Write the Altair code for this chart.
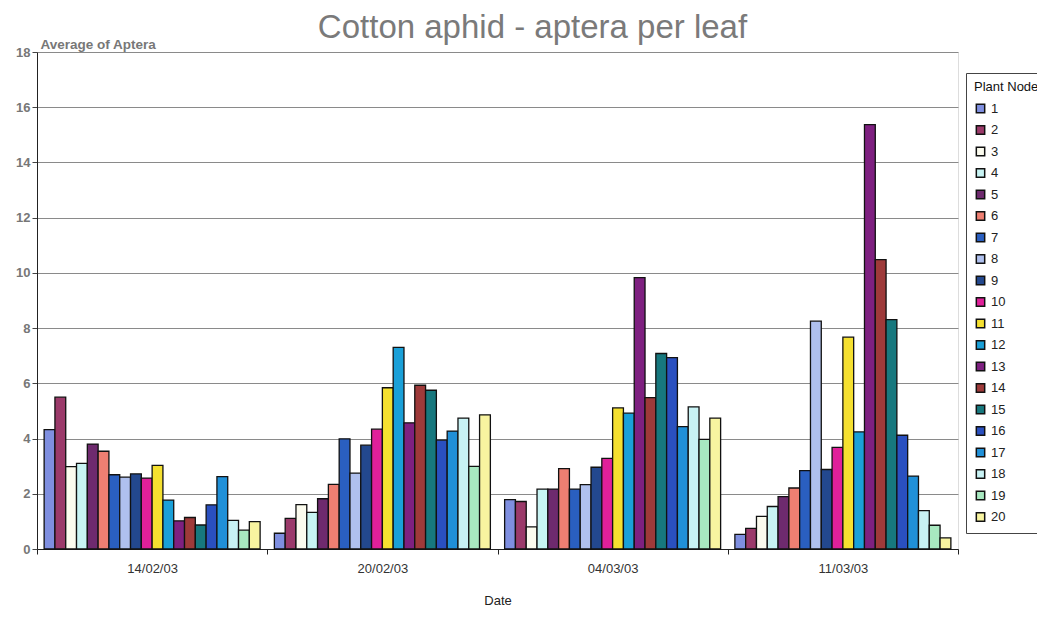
import altair as alt
import pandas as pd

dates = ["14/02/03", "20/02/03", "04/03/03", "11/03/03"]
nodes = list(range(1, 21))

vals_14_02 = [4.32, 5.5, 2.98, 3.1, 3.8, 3.54, 2.69, 2.6, 2.72, 2.57, 3.03, 1.77, 1.02, 1.14, 0.87, 1.6, 2.62, 1.04, 0.68, 0.99]
vals_20_02 = [0.57, 1.11, 1.61, 1.33, 1.82, 2.34, 3.99, 2.75, 3.76, 4.34, 5.84, 7.3, 4.57, 5.93, 5.75, 3.94, 4.27, 4.74, 2.99, 4.86]
vals_04_03 = [1.79, 1.72, 0.8, 2.17, 2.17, 2.91, 2.17, 2.33, 2.96, 3.28, 5.11, 4.92, 9.83, 5.48, 7.08, 6.93, 4.43, 5.15, 3.97, 4.74]
vals_11_03 = [0.53, 0.75, 1.18, 1.54, 1.9, 2.21, 2.84, 8.25, 2.88, 3.68, 7.67, 4.24, 15.37, 10.48, 8.31, 4.12, 2.64, 1.39, 0.86, 0.4]

node_colors = ["#7f8fe0", "#9b3a6a", "#fbfbee", "#c8f4f4", "#6e2a6e", "#ee7f72", "#2a5fc0", "#afc0ee",
               "#23488e", "#e0209a", "#f5e030", "#1aa0d8", "#7e2080", "#9e3a3a", "#17787e", "#2a50c0",
               "#2090d8", "#c8f2f4", "#a8e8c0", "#f8f4a0"]

rows = []
for d, vals in zip(dates, [vals_14_02, vals_20_02, vals_04_03, vals_11_03]):
    for n, v in zip(nodes, vals):
        rows.append({"Date": d, "Plant Node": n, "Aptera": v})
df = pd.DataFrame(rows)

FONT = "Liberation Sans"

chart = alt.Chart(df).mark_bar(stroke="#111", strokeWidth=1.3).encode(
    x=alt.X("Date:N", sort=dates,
            scale=alt.Scale(paddingInner=0, paddingOuter=0),
            axis=alt.Axis(title="Date", labelAngle=0, tickBand="extent", tickSize=5,
                          tickColor="#222", domainColor="#222", labelPadding=8,
                          labelFontSize=13, labelColor="#333", labelFont=FONT,
                          titleFontSize=13, titleFont=FONT, titleColor="#222",
                          titleFontWeight="normal", titlePadding=19, grid=False)),
    xOffset=alt.XOffset("Plant Node:O", sort=nodes,
                        scale=alt.Scale(paddingInner=0, paddingOuter=0.66)),
    y=alt.Y("Aptera:Q", scale=alt.Scale(domain=[0, 18]),
            axis=alt.Axis(title="Average of Aptera", values=list(range(0, 19, 2)),
                          titleAngle=0, titleX=3, titleY=-4, titleAlign="left",
                          titleBaseline="alphabetic", titleFontSize=13.5,
                          titleFontWeight="bold", titleColor="#777", titleFont=FONT,
                          labelFontSize=13, labelFontWeight="bold", labelColor="#777",
                          labelFont=FONT, tickSize=5, tickColor="#444",
                          domainColor="#222", gridColor="#8a8a8a", gridWidth=1)),
    color=alt.Color("Plant Node:O", sort=nodes,
                    scale=alt.Scale(domain=nodes, range=node_colors),
                    legend=alt.Legend(title="Plant Node", orient="none", legendX=929,
                                      legendY=21, symbolType="square", symbolSize=70,
                                      symbolStrokeColor="#111", symbolStrokeWidth=1.5,
                                      labelFontSize=13, labelFont=FONT, labelColor="#222",
                                      titleFontSize=13, titleFont=FONT, titleColor="#111",
                                      titleFontWeight="normal", padding=8,
                                      strokeColor="#444", rowPadding=6.5,
                                      titlePadding=8, labelLimit=100)),
).properties(
    width=921,
    height=497,
    title=alt.TitleParams("Cotton aphid - aptera per leaf", fontSize=33, font=FONT,
                          color="#7a7a7a", fontWeight="normal", anchor="middle",
                          baseline="alphabetic", offset=3, dx=35, dy=37),
    autosize=alt.AutoSizeParams(type="none"),
    padding={"left": 29, "top": 44, "right": 79, "bottom": 60},
).configure_view(stroke="#444", strokeWidth=1).configure(background="white")

chart.save("out.html", embed_options={"renderer": "svg", "actions": False})
